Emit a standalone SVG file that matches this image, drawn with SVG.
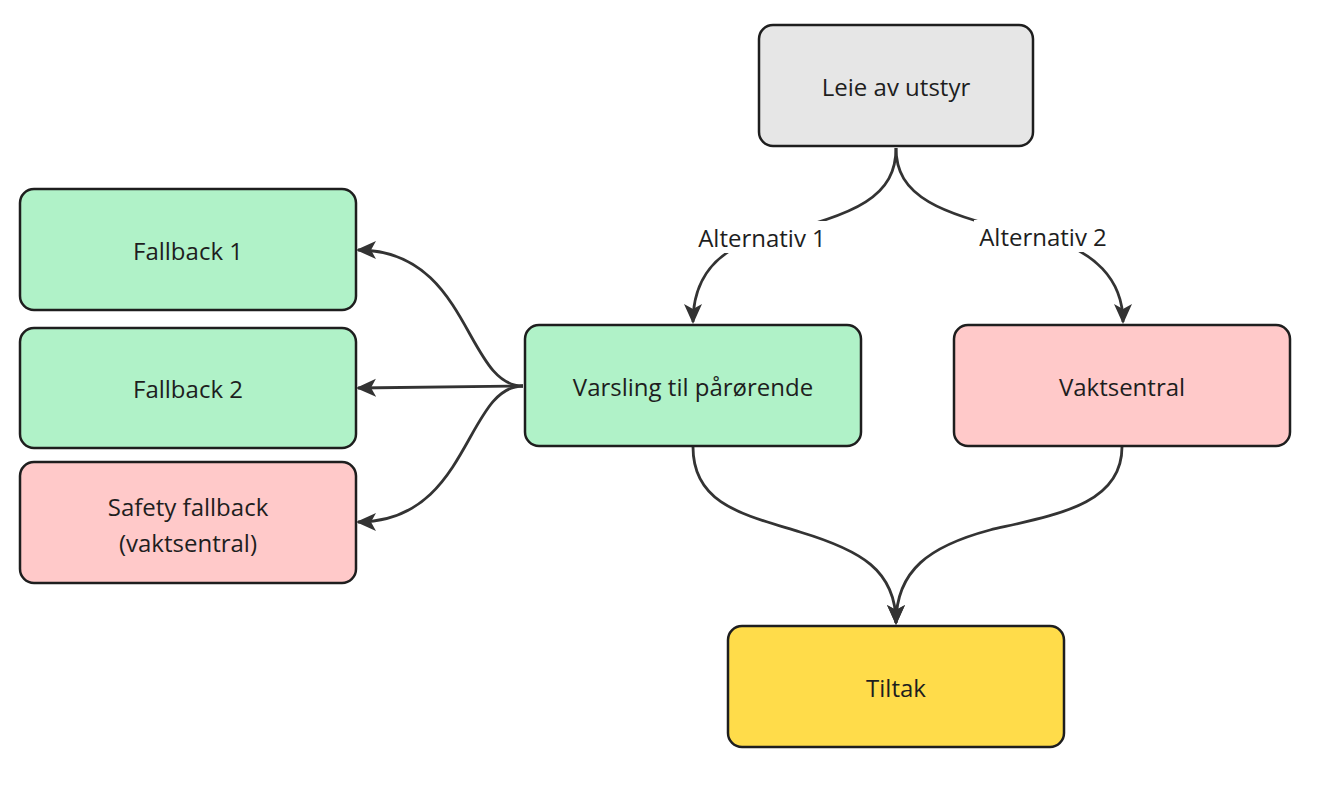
<svg xmlns="http://www.w3.org/2000/svg" width="1342" height="791" viewBox="0 0 1342 791">
<style>
.n{stroke:#1e1e1e;stroke-width:2.5}
.g{fill:#b0f2c8}.p{fill:#ffc9c9}.y{fill:#ffdc4a}.gr{fill:#e6e6e6}
text{font-family:"Open Sans","Noto Sans",sans-serif;font-size:24px;fill:#1e1e1e;text-anchor:middle;dominant-baseline:central}
.c{fill:none;stroke:#333;stroke-width:2.8}
</style>
<defs>
<marker id="a" markerUnits="userSpaceOnUse" viewBox="0 0 20 20" markerWidth="20" markerHeight="20" refX="18" refY="10" orient="auto">
<path d="M0,1 L20,10 L0,19 L5,10 z" fill="#333"/>
</marker>
</defs>
<rect width="1342" height="791" fill="#fff"/>
<g id="connectors">
<path class="c" d="M896 148 C896 195,860 215,762 237 C715 250,693 280,693 322" marker-end="url(#a)"/>
<path class="c" d="M896 148 C896 195,935 215,1042 237 C1095 250,1123 280,1123 322" marker-end="url(#a)"/>
<path class="c" d="M693 447 C693 505,745 515,800 532 C860 550,896 570,896 623" marker-end="url(#a)"/>
<path class="c" d="M1122 447 C1122 505,1055 515,990 530 C930 546,896 570,896 623" marker-end="url(#a)"/>
<path class="c" d="M523 386 C465 386,470 250,358 250" marker-end="url(#a)"/>
<path class="c" d="M523 386 L358 388" marker-end="url(#a)"/>
<path class="c" d="M523 386 C465 386,470 522,358 522" marker-end="url(#a)"/>
<rect x="694" y="221" width="136" height="32" fill="#fff"/>
<text x="762" y="237">Alternativ 1</text>
<rect x="974" y="220" width="138" height="32" fill="#fff"/>
<text x="1043" y="236">Alternativ 2</text>
</g>
<g id="leie"><rect class="n gr" x="759" y="25" width="274" height="121" rx="14"/><text x="896" y="86">Leie av utstyr</text></g>
<g id="fallback1"><rect class="n g" x="20" y="189" width="336" height="121" rx="14"/><text x="188" y="250">Fallback 1</text></g>
<g id="fallback2"><rect class="n g" x="20" y="328" width="336" height="120" rx="14"/><text x="188" y="388">Fallback 2</text></g>
<g id="safety"><rect class="n p" x="20" y="462" width="336" height="121" rx="14"/><text x="188" y="506">Safety fallback</text><text x="188" y="542">(vaktsentral)</text></g>
<g id="varsling"><rect class="n g" x="525" y="325" width="336" height="121" rx="14"/><text x="693" y="386">Varsling til pårørende</text></g>
<g id="vaktsentral"><rect class="n p" x="954" y="325" width="336" height="121" rx="14"/><text x="1122" y="386">Vaktsentral</text></g>
<g id="tiltak"><rect class="n y" x="728" y="626" width="336" height="121" rx="14"/><text x="896" y="687">Tiltak</text></g>
</svg>
